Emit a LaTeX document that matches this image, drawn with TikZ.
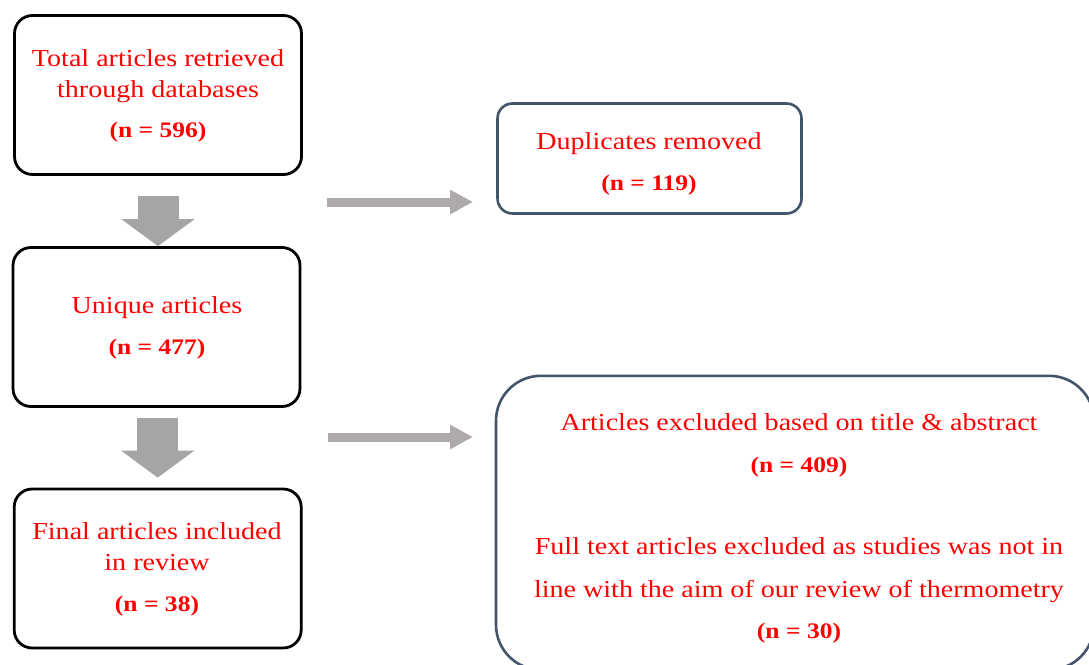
\documentclass[tikz,border=0pt]{standalone}
\usepackage{fontspec}
\setmainfont[FakeStretch=1.15]{Liberation Serif}
\usetikzlibrary{arrows.meta}
\definecolor{txtred}{HTML}{FF0000}
\definecolor{slate}{HTML}{44546A}
\definecolor{downgray}{HTML}{A5A5A5}
\definecolor{sidegray}{HTML}{AEAAAA}
\tikzset{
  leftbox/.style={draw=black, line width=2.8pt, rounded corners=18pt, minimum width=287pt, minimum height=159pt, inner sep=0pt},
  rightbox/.style={draw=slate, line width=2.6pt, inner sep=0pt},
  txt/.style={anchor=base, text=txtred, inner sep=0pt, font=\fontsize{24.4}{30}\selectfont},
  num/.style={anchor=base, text=txtred, inner sep=0pt, font=\bfseries\fontsize{22.2}{30}\selectfont},
  downarrow/.style={draw=downgray, line width=41pt, -{Triangle[length=27pt, width=72pt]}},
  sidearrow/.style={draw=sidegray, line width=9pt, -{Triangle[length=23pt, width=23pt]}}
}
\begin{document}
\begin{tikzpicture}[x=1pt,y=-1pt]
\clip (0,0) rectangle (1089,664);
% boxes
\node[leftbox] (b1) at (158,95) {};
\node[leftbox] (b2) at (156.5,327) {};
\node[leftbox] (b3) at (157.7,568.5) {};
\node[rightbox, rounded corners=15pt, minimum width=304pt, minimum height=110pt] (dup) at (649.5,158.5) {};
\node[rightbox, rounded corners=45pt, minimum width=598pt, minimum height=294pt] (exc) at (795,522.8) {};
% texts
\node[txt] (t1a) at (158,66) {Total articles retrieved};
\node[txt] (t1b) at (158,97) {through databases};
\node[num] (t1n) at (158,137) {(n = 596)};
\node[txt] (t2a) at (157,313) {Unique articles};
\node[num] (t2n) at (157,354) {(n = 477)};
\node[txt] (t3a) at (157,539) {Final articles included};
\node[txt] (t3b) at (157,570) {in review};
\node[num] (t3n) at (157,611) {(n = 38)};
\node[txt] (tda) at (649,149) {Duplicates removed};
\node[num] (tdn) at (649,190) {(n = 119)};
\node[txt] (tea) at (799,430) {Articles excluded based on title \& abstract};
\node[num] (ten) at (799,472) {(n = 409)};
\node[txt] (teb) at (799,554) {Full text articles excluded as studies was not in};
\node[txt] (tec) at (799,597) {line with the aim of our review of thermometry};
\node[num] (tem) at (799,638) {(n = 30)};
% arrows
\draw[downarrow, shorten <=20.4pt] (b1.south) -- (b1.south |- b2.north);
\draw[downarrow, shorten <=10pt, shorten >=10pt] (b2.south -| b3.north) -- (b3.north);
\coordinate (r1s) at (327,202);
\coordinate (r1e) at (473,202);
\coordinate (r2s) at (328,437);
\coordinate (r2e) at (473,437);
\draw[sidearrow] (r1s) -- (r1e);
\draw[sidearrow] (r2s) -- (r2e);
\end{tikzpicture}
\end{document}
